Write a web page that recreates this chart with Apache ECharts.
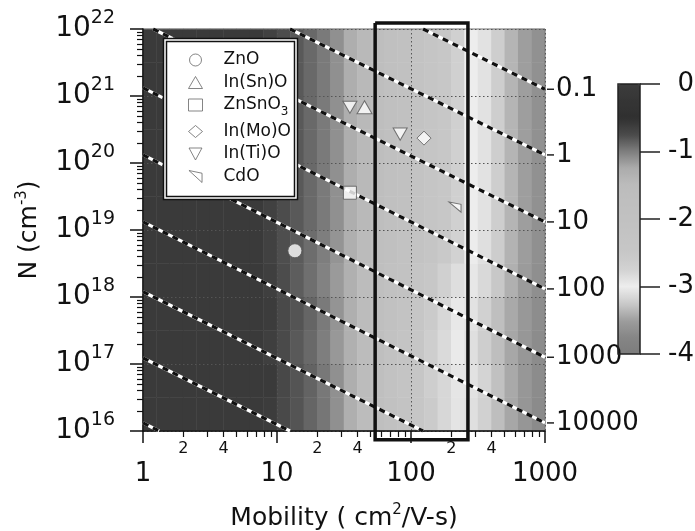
<!DOCTYPE html>
<html>
<head>
<meta charset="utf-8">
<style>
  html, body { margin: 0; padding: 0; background: #fff; }
  #chart { width: 695px; height: 531px; }
</style>
<script src="https://cdn.jsdelivr.net/npm/echarts@6/dist/echarts.min.js"></script>
</head>
<body>
<div id="chart"></div>
<script>
const FONT = 'DejaVu Sans';

// heatmap bins: mobility (10 per decade), carrier density (2 per decade)
const mobilityBins = ['1.12', '1.41', '1.78', '2.24', '2.82', '3.55', '4.47', '5.62', '7.08', '8.91',
  '11.2', '14.1', '17.8', '22.4', '28.2', '35.5', '44.7', '56.2', '70.8', '89.1',
  '112', '141', '178', '224', '282', '355', '447', '562', '708', '891'];
const densityBins = ['1.8e16', '5.6e16', '1.8e17', '5.6e17', '1.8e18', '5.6e18',
  '1.8e19', '5.6e19', '1.8e20', '5.6e20', '1.8e21', '5.6e21'];

// log value per cell, row 0 = lowest N
const zGrid = [
  [-0.1, -0.1, -0.1, -0.1, -0.1, -0.1, -0.1, -0.1, -0.1, -0.62, -0.74, -0.8, -0.88, -0.96, -1.1, -1.3, -1.5, -1.8, -2.0, -2.2, -2.4, -2.6, -2.8, -2.92, -3.1, -3.2, -3.32, -3.45, -3.58, -3.7],
  [-0.1, -0.1, -0.1, -0.1, -0.1, -0.1, -0.1, -0.1, -0.1, -0.6, -0.73, -0.8, -0.87, -0.97, -1.1, -1.28, -1.5, -1.8, -2.05, -2.25, -2.45, -2.65, -2.8, -2.93, -3.08, -3.18, -3.3, -3.44, -3.57, -3.69],
  [-0.1, -0.1, -0.1, -0.1, -0.1, -0.1, -0.1, -0.1, -0.1, -0.64, -0.75, -0.82, -0.9, -1.0, -1.14, -1.32, -1.52, -1.8, -2.05, -2.25, -2.45, -2.65, -2.82, -2.97, -3.1, -3.22, -3.32, -3.45, -3.57, -3.69],
  [-0.1, -0.1, -0.1, -0.1, -0.1, -0.1, -0.1, -0.1, -0.1, -0.62, -0.74, -0.8, -0.88, -0.98, -1.12, -1.3, -1.5, -1.8, -2.0, -2.2, -2.4, -2.6, -2.8, -2.95, -3.08, -3.2, -3.31, -3.44, -3.56, -3.68],
  [-0.1, -0.1, -0.1, -0.1, -0.1, -0.1, -0.1, -0.1, -0.1, -0.64, -0.76, -0.84, -0.93, -1.02, -1.15, -1.32, -1.5, -1.75, -1.95, -2.1, -2.3, -2.48, -2.7, -2.86, -3.04, -3.14, -3.26, -3.4, -3.53, -3.66],
  [-0.1, -0.1, -0.1, -0.1, -0.1, -0.1, -0.1, -0.1, -0.1, -0.66, -0.77, -0.83, -0.92, -1.0, -1.12, -1.3, -1.48, -1.72, -1.9, -2.05, -2.2, -2.35, -2.55, -2.74, -3.01, -3.1, -3.23, -3.38, -3.51, -3.65],
  [-0.1, -0.1, -0.1, -0.1, -0.1, -0.1, -0.1, -0.1, -0.1, -0.66, -0.76, -0.82, -0.9, -0.98, -1.1, -1.28, -1.45, -1.7, -1.85, -2.0, -2.15, -2.3, -2.5, -2.7, -3.0, -3.08, -3.22, -3.37, -3.5, -3.64],
  [-0.1, -0.1, -0.1, -0.1, -0.1, -0.1, -0.1, -0.1, -0.1, -0.66, -0.76, -0.82, -0.9, -0.98, -1.1, -1.28, -1.45, -1.7, -1.85, -2.0, -2.15, -2.3, -2.5, -2.7, -3.0, -3.08, -3.22, -3.37, -3.5, -3.64],
  [-0.1, -0.1, -0.1, -0.1, -0.1, -0.1, -0.1, -0.1, -0.1, -0.66, -0.76, -0.82, -0.9, -0.98, -1.1, -1.28, -1.45, -1.7, -1.85, -2.0, -2.15, -2.3, -2.5, -2.7, -3.0, -3.08, -3.22, -3.37, -3.5, -3.64],
  [-0.1, -0.1, -0.1, -0.1, -0.1, -0.1, -0.1, -0.1, -0.1, -0.66, -0.76, -0.82, -0.9, -0.98, -1.1, -1.28, -1.45, -1.7, -1.85, -2.0, -2.15, -2.3, -2.5, -2.7, -3.0, -3.08, -3.22, -3.37, -3.5, -3.64],
  [-0.1, -0.1, -0.1, -0.1, -0.1, -0.1, -0.1, -0.1, -0.1, -0.66, -0.76, -0.82, -0.9, -0.98, -1.1, -1.28, -1.45, -1.7, -1.85, -2.0, -2.15, -2.3, -2.5, -2.7, -3.0, -3.08, -3.22, -3.37, -3.5, -3.64],
  [-0.1, -0.1, -0.1, -0.1, -0.1, -0.1, -0.1, -0.1, -0.1, -0.66, -0.76, -0.82, -0.9, -0.98, -1.1, -1.28, -1.45, -1.7, -1.85, -2.0, -2.15, -2.3, -2.5, -2.7, -3.0, -3.08, -3.22, -3.37, -3.5, -3.64]
];

// colour bar, from -4 up to 0 in steps of 0.25
const colorbarStops = ['#7c7c7c', '#868686', '#9e9e9e', '#cacaca', '#ededed', '#d2d2d2', '#c7c7c7', '#c4c4c4',
  '#c1c1c1', '#bfbfbf', '#bcbcbc', '#acacac', '#7e7e7e', '#4a4a4a', '#303030', '#353535', '#3d3d3d'];

// measured films [mobility, N]
const materials = ['ZnO', 'In(Sn)O', 'ZnSnO3', 'In(Mo)O', 'In(Ti)O', 'CdO'];
const znoPoints = [[13.6, 4.9e18]];
const itoPoints = [[45, 6.8e20]];
const znSnO3Points = [[35, 3.6e19]];
const imoPoints = [[125, 2.35e20]];
const itiPoints = [[35, 6.8e20], [83, 2.7e20]];
const cdoPoints = [[213, 2.2e19]];

// constant-resistance lines, ends where they meet the frame
const sheetLabels = ['0.1', '1', '10', '100', '1000', '10000', '', '', ''];
const lineStartMu = [123, 12.5, 1.19, 1, 1, 1, 1, 1, 1];
const lineStartN = [1e22, 1e22, 1e22, 1.32e21, 1.32e20, 1.32e19, 1.2e18, 1.23e17, 1.32e16];
const lineEndMu = [1000, 1000, 1000, 1000, 1000, 1000, 123, 12.5, 1.32];
const lineEndN = [1.26e21, 1.32e20, 1.32e19, 1.32e18, 1.26e17, 1.32e16, 1e16, 1e16, 1e16];

// highlighted mobility window
const boxMu = [54, 266, 266, 54, 54];
const boxN = [1.23e22, 1.23e22, 7.4e15, 7.4e15, 1.23e22];

const mobilityMinorLabels = [2, 4, 20, 40, 200, 400];

// minor tick positions in log space
const minorMu = [];
for (let d = 0; d < 3; d++) for (let k = 2; k <= 9; k++) minorMu.push(d + Math.log10(k));
const minorN = [];
for (let d = 16; d < 22; d++) for (let k = 2; k <= 9; k++) minorN.push(d + Math.log10(k));

const heatData = [];
zGrid.forEach((row, j) => row.forEach((v, i) => heatData.push([i, j, v])));

const markerStyle = { color: '#fff', borderColor: '#555', borderWidth: 1 };

const materialSeries = (name, data, symbol, size) => ({
  type: 'scatter',
  name: name,
  xAxisIndex: 0,
  yAxisIndex: 0,
  data: data,
  symbol: symbol,
  symbolSize: size,
  symbolKeepAspect: true,
  itemStyle: markerStyle,
  z: 6,
  silent: true
});

const series = [
  {
    type: 'heatmap',
    xAxisIndex: 2,
    yAxisIndex: 2,
    data: heatData,
    z: 1,
    silent: true
  }
];

sheetLabels.forEach((lab, i) => {
  const pts = [[lineStartMu[i], lineStartN[i]], [lineEndMu[i], lineEndN[i]]];
  series.push({
    type: 'line', xAxisIndex: 0, yAxisIndex: 0, data: pts, symbol: 'none',
    lineStyle: { color: '#fff', width: 3.2 }, z: 4, silent: true
  });
  series.push({
    type: 'line', xAxisIndex: 0, yAxisIndex: 0, data: pts, symbol: 'none',
    lineStyle: { color: '#111', width: 3.2, type: [6, 5] }, z: 5, silent: true,
    endLabel: {
      show: lab !== '',
      distance: 2,
      formatter: '{t| }{v|' + lab + '}',
      rich: {
        t: { width: 7, height: 1.5, backgroundColor: '#222', fontSize: 2, lineHeight: 2 },
        v: { fontSize: 26, fontFamily: FONT, color: '#111', padding: [0, 0, 0, 2] }
      }
    }
  });
});

series.push(
  materialSeries('ZnO', znoPoints, 'circle', 14),
  materialSeries('In(Sn)O', itoPoints, 'triangle', [15, 13]),
  materialSeries('ZnSnO3', znSnO3Points, 'rect', 13),
  materialSeries('In(Mo)O', imoPoints, 'diamond', [14, 14]),
  materialSeries('In(Ti)O', itiPoints, 'path://M0,0 L14,0 L7,13 Z', [14, 13]),
  materialSeries('CdO', cdoPoints, 'path://M0,0 L12,2.5 L12,11 Z', [12, 11])
);

series.push({
  type: 'line', xAxisIndex: 0, yAxisIndex: 0,
  data: boxMu.map((m, i) => [m, boxN[i]]),
  symbol: 'none', clip: false,
  lineStyle: { color: '#111', width: 3.5, join: 'miter' },
  z: 7, silent: true
});

const option = {
  animation: false,
  grid: [
    { left: 143, top: 29, width: 402, height: 402, show: true, borderColor: '#777', borderWidth: 1, z: 2, outerBoundsMode: 'none' },
    { left: 618, top: 84, width: 22, height: 270, show: true, borderColor: '#222', borderWidth: 1.5, z: 10, outerBoundsMode: 'none' }
  ],
  xAxis: [
    {
      type: 'log', logBase: 10, min: 1, max: 1000, gridIndex: 0, position: 'bottom', z: 3,
      axisLine: { onZero: false, lineStyle: { color: '#111', width: 1.5 } },
      axisTick: { inside: false, length: 12, lineStyle: { color: '#111', width: 1.5 } },
      axisLabel: { margin: 30, fontSize: 26, color: '#111', fontFamily: FONT, formatter: (v) => String(Math.round(v)) },
      splitLine: { show: true, lineStyle: { type: [1.5, 2.5], color: '#555', width: 1 } },
      name: 'Mobility ( cm{s|2}/V-s)',
      nameLocation: 'middle',
      nameGap: 72,
      nameTextStyle: {
        fontSize: 25, lineHeight: 30, color: '#111', fontFamily: FONT,
        rich: { s: { fontSize: 15, lineHeight: 15, verticalAlign: 'top', color: '#111', fontFamily: FONT } }
      }
    },
    {
      type: 'value', min: 0, max: 3, gridIndex: 0, position: 'bottom', z: 3,
      axisLine: { show: false, onZero: false },
      axisTick: { show: true, inside: false, length: 6, customValues: minorMu, lineStyle: { color: '#111', width: 1.2 } },
      axisLabel: {
        show: true, customValues: mobilityMinorLabels.map(Math.log10), margin: 10,
        fontSize: 16, color: '#111', fontFamily: FONT,
        formatter: (v) => String(Math.round(Math.pow(10, v))).charAt(0)
      },
      splitLine: { show: false }
    },
    { type: 'category', gridIndex: 0, data: mobilityBins, show: false },
    { type: 'value', gridIndex: 1, min: 0, max: 1, show: false }
  ],
  yAxis: [
    {
      type: 'log', logBase: 10, min: 1e16, max: 1e22, splitNumber: 6, gridIndex: 0, position: 'left', z: 3,
      axisLine: { onZero: false, lineStyle: { color: '#111', width: 1.5 } },
      axisTick: { inside: false, length: 13, lineStyle: { color: '#111', width: 1.5 } },
      axisLabel: {
        margin: 28,
        formatter: (v) => '{b|10}{s|' + Math.round(Math.log10(v)) + '}',
        rich: {
          b: { fontSize: 28, lineHeight: 40, color: '#111', fontFamily: FONT },
          s: { fontSize: 19, lineHeight: 19, verticalAlign: 'top', color: '#111', fontFamily: FONT }
        }
      },
      splitLine: { show: true, lineStyle: { type: [1.5, 2.5], color: '#555', width: 1 } },
      name: 'N (cm{s|-3})',
      nameLocation: 'middle',
      nameRotate: 90,
      nameGap: 92,
      nameTextStyle: {
        fontSize: 25, lineHeight: 30, color: '#111', fontFamily: FONT,
        rich: { s: { fontSize: 15, lineHeight: 15, verticalAlign: 'top', color: '#111', fontFamily: FONT } }
      }
    },
    {
      type: 'value', min: 16, max: 22, gridIndex: 0, position: 'left', z: 3,
      axisLine: { show: false, onZero: false },
      axisTick: { show: true, inside: false, length: 6, customValues: minorN, lineStyle: { color: '#111', width: 1.2 } },
      axisLabel: { show: false },
      splitLine: { show: false }
    },
    { type: 'category', gridIndex: 0, data: densityBins, show: false },
    {
      type: 'value', gridIndex: 1, min: -4, max: 0, interval: 1, position: 'right', z: 10,
      axisLine: { show: false, onZero: false },
      axisTick: { inside: false, length: 20, lineStyle: { color: '#222', width: 1.5 } },
      axisLabel: { align: 'right', margin: 54, fontSize: 26, color: '#111', fontFamily: FONT },
      splitLine: { show: false }
    }
  ],
  visualMap: {
    type: 'continuous',
    seriesIndex: 0,
    min: -4,
    max: 0,
    calculable: false,
    hoverLink: false,
    orient: 'vertical',
    left: 618,
    top: 84,
    itemWidth: 22,
    itemHeight: 270,
    padding: 0,
    inRange: { color: colorbarStops }
  },
  legend: {
    data: materials,
    orient: 'vertical',
    left: 180,
    top: 41,
    padding: [10, 0, 0, 8],
    itemWidth: 14,
    itemHeight: 12,
    itemGap: 4.5,
    symbolKeepAspect: true,
    selectedMode: false,
    z: 9,
    itemStyle: { color: '#fff', borderColor: '#666', borderWidth: 1 },
    formatter: (name) => (name === 'ZnSnO3' ? 'ZnSnO{s|3}' : name),
    textStyle: {
      fontSize: 17, lineHeight: 18, color: '#111', fontFamily: FONT, padding: [0, 0, 0, 16],
      rich: { s: { fontSize: 12, lineHeight: 12, verticalAlign: 'bottom', color: '#111', fontFamily: FONT, padding: [0, 0, -4, 0] } }
    }
  },
  graphic: [
    { type: 'rect', z: 8, silent: true, shape: { x: 163.5, y: 38.5, width: 134, height: 161 }, style: { fill: '#fff', stroke: '#111', lineWidth: 1.5 } },
    { type: 'rect', z: 8, silent: true, shape: { x: 166.5, y: 41.5, width: 128, height: 155 }, style: { fill: 'none', stroke: '#111', lineWidth: 1.5 } }
  ],
  series: series
};

const chart = echarts.init(document.getElementById('chart'));
chart.setOption(option);
</script>
</body>
</html>
